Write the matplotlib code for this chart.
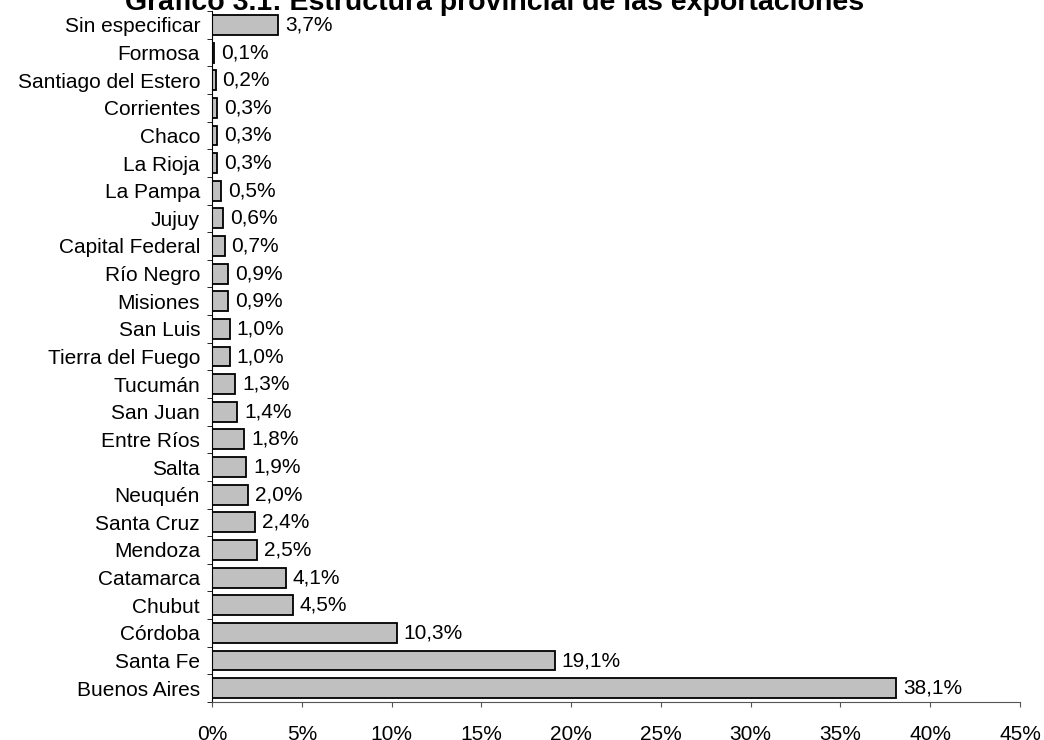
import matplotlib.pyplot as plt
import numpy as np
import matplotlib

matplotlib.rcParams['font.family'] = ['Liberation Sans', 'DejaVu Sans']

provincias = ['Buenos Aires', 'Santa Fe', 'Córdoba', 'Chubut', 'Catamarca', 'Mendoza',
              'Santa Cruz', 'Neuquén', 'Salta', 'Entre Ríos', 'San Juan', 'Tucumán',
              'Tierra del Fuego', 'San Luis', 'Misiones', 'Río Negro', 'Capital Federal',
              'Jujuy', 'La Pampa', 'La Rioja', 'Chaco', 'Corrientes', 'Santiago del Estero',
              'Formosa', 'Sin especificar']
valores = [38.1, 19.1, 10.3, 4.5, 4.1, 2.5, 2.4, 2.0, 1.9, 1.8, 1.4, 1.3,
           1.0, 1.0, 0.9, 0.9, 0.7, 0.6, 0.5, 0.3, 0.3, 0.3, 0.2, 0.1, 3.7]
xticks = [0, 5, 10, 15, 20, 25, 30, 35, 40, 45]

fig = plt.figure(figsize=(10.44, 7.4), dpi=100)
ax = fig.add_axes([0.2031, 0.0514, 0.7739, 0.9336])

y = np.arange(len(provincias))
ax.barh(y, valores, height=0.72, color='#c0c0c0', edgecolor='black', linewidth=1.3)
for yi, v in zip(y, valores):
    ax.text(v + 0.38, yi, ('%.1f' % v).replace('.', ',') + '%', va='center', ha='left', fontsize=15)

ax.set_xlim(0, 45)
ax.set_ylim(-0.5, len(provincias) - 0.5)
ax.set_xticks(xticks)
ax.set_xticklabels([str(t) + '%' for t in xticks], fontsize=15, va='top')
ax.tick_params(axis='x', direction='out', length=3.6, pad=13, color='#555555')
ax.set_yticks(y)
ax.set_yticklabels(provincias, fontsize=15)
ax.set_yticks(np.arange(-0.5, len(provincias), 1), minor=True)
ax.tick_params(axis='y', which='major', length=0, pad=8.6)
ax.tick_params(axis='y', which='minor', length=3.6, color='black')
for s in ['top', 'right']:
    ax.spines[s].set_visible(False)
ax.spines['bottom'].set_color('#555555')
ax.spines['left'].set_color('black')

fig.text(0.474, 0.986, 'Gráfico 3.1: Estructura provincial de las exportaciones',
         ha='center', va='baseline', fontsize=20.5, fontweight='bold')

fig.savefig('out.png', dpi=100)
